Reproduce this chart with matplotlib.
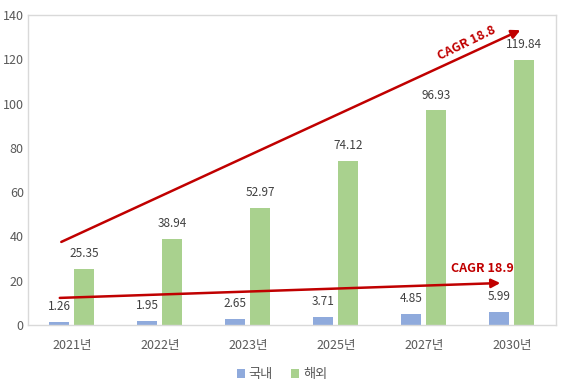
import numpy as np
import matplotlib.pyplot as plt

plt.rcParams['font.family'] = ['Noto Sans CJK KR', 'DejaVu Sans']

years = ['2021년', '2022년', '2023년', '2025년', '2027년', '2030년']
domestic = [1.26, 1.95, 2.65, 3.71, 4.85, 5.99]
overseas = [25.35, 38.94, 52.97, 74.12, 96.93, 119.84]
series_names = ['국내', '해외']

txt_color = '#595959'
blue = '#8FAADC'
green = '#A9D18E'
red = '#C00000'

fig = plt.figure(figsize=(5.64, 3.86), dpi=100)
ax = fig.add_axes([0.0496, 0.158, 0.936, 0.803])

x = np.arange(len(years))
w = 0.227
off = 0.142
b1 = ax.bar(x - off, domestic, w, color=blue, label=series_names[0])
b2 = ax.bar(x + off, overseas, w, color=green, label=series_names[1])

# value labels above the bars
for rect, v in zip(b1, domestic):
    ax.text(rect.get_x() + rect.get_width() / 2, v + 4, f'{v:.2f}',
            ha='center', va='bottom', fontsize=8.5, color='#404040')
for rect, v in zip(b2, overseas):
    ax.text(rect.get_x() + rect.get_width() / 2, v + 4, f'{v:.2f}',
            ha='center', va='bottom', fontsize=8.5, color='#404040')

# CAGR arrows
ax.annotate('', xy=(5.125, 133.7), xytext=(-0.15, 37),
            arrowprops=dict(arrowstyle='-|>', color=red, lw=1.8, mutation_scale=13))
ax.annotate('', xy=(4.9, 19), xytext=(-0.17, 12.2),
            arrowprops=dict(arrowstyle='-|>', color=red, lw=1.8, mutation_scale=13))
ax.text(4.49, 127.5, 'CAGR 18.8', rotation=26, ha='center', va='center',
        fontsize=9, fontweight='bold', color=red)
ax.text(4.67, 25.3, 'CAGR 18.9', ha='center', va='center',
        fontsize=9, fontweight='bold', color=red)

ax.set_xlim(-0.5, len(years) - 0.5)
ax.set_ylim(0, 140)
ax.set_yticks(range(0, 141, 20))
ax.set_xticks(x)
ax.set_xticklabels(years)
ax.tick_params(length=0, labelsize=9, colors=txt_color)
ax.tick_params(axis='x', pad=10)
ax.tick_params(axis='y', pad=3)
for s in ax.spines.values():
    s.set_color('#D9D9D9')
    s.set_linewidth(1)

fig.legend(loc='lower center', bbox_to_anchor=(0.5, -0.018), ncol=2, frameon=False,
           fontsize=9.5, handlelength=0.6, handleheight=0.6, handletextpad=0.3,
           columnspacing=1.4, labelcolor=txt_color)

fig.savefig('out.png', dpi=100)
